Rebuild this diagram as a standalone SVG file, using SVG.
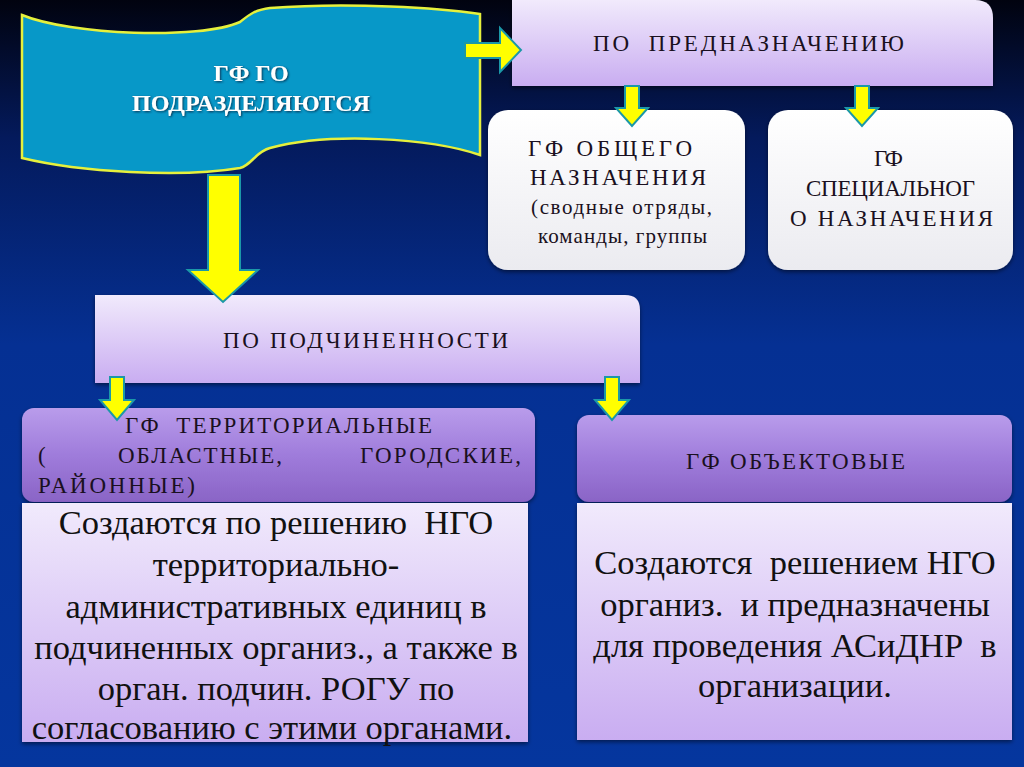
<svg xmlns="http://www.w3.org/2000/svg" width="1024" height="767" viewBox="0 0 1024 767">
<defs>
<linearGradient id="bg" x1="0" y1="0" x2="0" y2="1">
<stop offset="0" stop-color="#01030f"/>
<stop offset="0.18" stop-color="#041a5c"/>
<stop offset="0.45" stop-color="#053093"/>
<stop offset="1" stop-color="#05369e"/>
</linearGradient>
<linearGradient id="lav" x1="0" y1="0" x2="0" y2="1">
<stop offset="0" stop-color="#f1eafc"/>
<stop offset="1" stop-color="#c9adf1"/>
</linearGradient>
<linearGradient id="wht" x1="0" y1="0" x2="0" y2="1">
<stop offset="0" stop-color="#ffffff"/>
<stop offset="1" stop-color="#ebebf0"/>
</linearGradient>
<linearGradient id="pur" x1="0" y1="0" x2="0" y2="1">
<stop offset="0" stop-color="#b99ceb"/>
<stop offset="0.5" stop-color="#9f7cdb"/>
<stop offset="1" stop-color="#8a64c6"/>
</linearGradient>
<filter id="sh" x="-5%" y="-5%" width="110%" height="115%">
<feDropShadow dx="0" dy="2" stdDeviation="2" flood-color="#000" flood-opacity="0.5"/>
</filter>
<filter id="tsh" x="-5%" y="-20%" width="110%" height="140%">
<feDropShadow dx="1" dy="1" stdDeviation="0.8" flood-color="#0a2040" flood-opacity="0.9"/>
</filter>
</defs>
<style>
.arr{fill:#ffff00;stroke:#1b98a8;stroke-width:2;stroke-linejoin:miter}
text{font-family:'Liberation Serif',serif;white-space:pre}
.hd{fill:#1a1020;font-size:23px}
.lc{font-size:21px}
.body{fill:#111;font-size:34.5px}
.ttl{fill:#fff;font-weight:bold;font-size:24px}
</style>
<rect x="0" y="0" width="1024" height="767" fill="url(#bg)"/>

<g id="banner" font-family="Liberation Serif, serif">
<path d="M22,15 C70,35 200,40 240,22 C250,14 255,10 270,8 C350,2 440,8 480,14 L480,155 C430,138 330,132 270,148 C255,152 252,165 240,168 C180,178 80,172 22,158 Z" fill="#0798c8" stroke="#e6f03c" stroke-width="2.5"/>
<text class="ttl" x="251" y="81" text-anchor="middle" filter="url(#tsh)">ГФ ГО</text>
<text class="ttl" x="251" y="111" text-anchor="middle" filter="url(#tsh)" textLength="238" lengthAdjust="spacingAndGlyphs">ПОДРАЗДЕЛЯЮТСЯ</text>
</g>

<g id="po-prednaz" font-family="Liberation Serif, serif">
<path d="M512,0 H975 Q993,0 993,18 V86 H512 Z" fill="url(#lav)" filter="url(#sh)"/>
<text class="hd" x="593" y="51" textLength="311" lengthAdjust="spacing">ПО  ПРЕДНАЗНАЧЕНИЮ</text>
</g>

<g id="gf-obshego" font-family="Liberation Serif, serif">
<rect x="488" y="110" width="257" height="160" rx="20" fill="url(#wht)" filter="url(#sh)"/>
<text class="hd" x="528" y="156" textLength="164" lengthAdjust="spacing">ГФ ОБЩЕГО</text>
<text class="hd" x="530" y="185" textLength="176" lengthAdjust="spacing">НАЗНАЧЕНИЯ</text>
<text class="hd lc" x="531" y="214" textLength="181" lengthAdjust="spacing">(сводные отряды,</text>
<text class="hd lc" x="538" y="243" textLength="169" lengthAdjust="spacing">команды, группы</text>
</g>

<g id="gf-special" font-family="Liberation Serif, serif">
<rect x="768" y="110" width="245" height="160" rx="20" fill="url(#wht)" filter="url(#sh)"/>
<text class="hd" x="874" y="166" textLength="29" lengthAdjust="spacing">ГФ</text>
<text class="hd" x="806" y="196" textLength="169" lengthAdjust="spacing">СПЕЦИАЛЬНОГ</text>
<text class="hd" x="790" y="226" textLength="203" lengthAdjust="spacing">О НАЗНАЧЕНИЯ</text>
</g>

<g id="po-podch" font-family="Liberation Serif, serif">
<path d="M95,295 H625 Q640,295 640,310 V383 H95 Z" fill="url(#lav)" filter="url(#sh)"/>
<text class="hd" x="223" y="348" textLength="285" lengthAdjust="spacing">ПО ПОДЧИНЕННОСТИ</text>
</g>

<g id="gf-terr" font-family="Liberation Serif, serif">
<rect x="22" y="408" width="513" height="94" rx="12" fill="url(#pur)" filter="url(#sh)"/>
<text class="hd" x="125" y="433" textLength="307" lengthAdjust="spacing">ГФ  ТЕРРИТОРИАЛЬНЫЕ</text>
<text class="hd" x="38" y="463">(</text>
<text class="hd" x="118" y="463" textLength="164" lengthAdjust="spacing">ОБЛАСТНЫЕ,</text>
<text class="hd" x="360" y="463" textLength="161" lengthAdjust="spacing">ГОРОДСКИЕ,</text>
<text class="hd" x="38" y="493" textLength="157" lengthAdjust="spacing">РАЙОННЫЕ)</text>
</g>

<g id="gf-obekt" font-family="Liberation Serif, serif">
<rect x="577" y="415" width="435" height="87" rx="12" fill="url(#pur)" filter="url(#sh)"/>
<text class="hd" x="686" y="469" textLength="219" lengthAdjust="spacing">ГФ ОБЪЕКТОВЫЕ</text>
</g>

<g id="desc-terr" font-family="Liberation Serif, serif">
<rect x="22" y="503" width="506" height="239" fill="url(#lav)" filter="url(#sh)"/>
<text class="body" x="276" y="534" text-anchor="middle">Создаются по решению  НГО</text>
<text class="body" x="276" y="576" text-anchor="middle">территориально-</text>
<text class="body" x="276" y="618" text-anchor="middle">административных единиц в</text>
<text class="body" x="276" y="659" text-anchor="middle">подчиненных организ., а также в</text>
<text class="body" x="276" y="700" text-anchor="middle">орган. подчин. РОГУ по</text>
<text class="body" x="272" y="739" text-anchor="middle">согласованию с этими органами.</text>
</g>

<g id="desc-obekt" font-family="Liberation Serif, serif">
<rect x="577" y="503" width="435" height="237" fill="url(#lav)" filter="url(#sh)"/>
<text class="body" x="795" y="574" text-anchor="middle">Создаются  решением НГО</text>
<text class="body" x="795" y="616" text-anchor="middle">организ.  и предназначены</text>
<text class="body" x="795" y="657" text-anchor="middle">для проведения АСиДНР  в</text>
<text class="body" x="795" y="697" text-anchor="middle">организации.</text>
</g>

<g id="connectors">
<path class="arr" d="M465,43 H500 V28 L521,50 L500,72 V58 H465 Z"/>
<path class="arr" d="M208,175 H240 V270 H258 L223,302 L188,270 H208 Z"/>
<path class="arr" d="M625,86 H639 V108 H648 L632,126 L616,108 H625 Z"/>
<path class="arr" d="M855,86 H869 V108 H878 L862,126 L846,108 H855 Z"/>
<path class="arr" d="M110,377 H124 V400 H134 L117,420 L100,400 H110 Z"/>
<path class="arr" d="M605,377 H619 V400 H629 L612,420 L595,400 H605 Z"/>
</g>
</svg>
